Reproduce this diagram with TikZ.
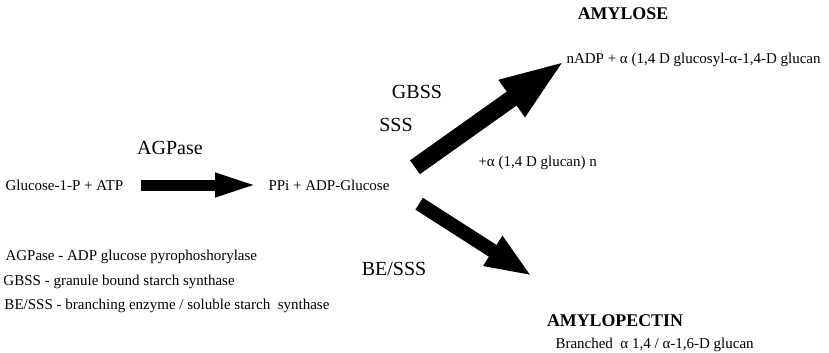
\documentclass[tikz,border=0pt]{standalone}
\usepackage{fontspec}
\setmainfont{Liberation Serif}
\usetikzlibrary{arrows.meta}

\tikzset{every picture/.style={line width=0.75pt}}
\tikzset{
	small text/.style={inner sep=0pt, font=\fontsize{11.25}{13}\selectfont},
	enzyme text/.style={inner sep=0pt, font=\fontsize{15}{17}\selectfont},
	product text/.style={inner sep=0pt, font=\fontsize{13.4}{15}\selectfont\bfseries},
	block arrow/.style={draw=black, line width=#1}
}

\begin{document}
\begin{tikzpicture}[x=0.75pt,y=0.75pt,yscale=-1,xscale=1]
	\useasboundingbox (0,0) rectangle (829,353);

	% Text Node
	\draw (5,185) node [anchor=west] [small text] (glc) {Glucose-1-P + ATP};
	% Text Node
	\draw (268,185) node [anchor=west] [small text] (ppi) {PPi + ADP-Glucose};
	% Text Node
	\draw (170,148) node [enzyme text] (agp) {AGPase};
	% Text Node
	\draw (417,92) node [enzyme text] (gbss) {GBSS};
	% Text Node
	\draw (396,125) node [enzyme text] (sss) {SSS};
	% Text Node
	\draw (394,269) node [enzyme text] (besss) {BE/SSS};
	% Text Node
	\draw (623,14) node [product text] (amylose) {AMYLOSE};
	% Text Node
	\draw (566,60) node [anchor=west] [small text] (nadp) {nADP + α (1,4 D glucosyl-α-1,4-D glucan};
	% Text Node
	\draw (478,163) node [anchor=west] [small text] (glucan) {+α (1,4 D glucan) n};
	% Text Node
	\draw (615,321) node [product text] (amylopectin) {AMYLOPECTIN};
	% Text Node
	\draw (555,345) node [anchor=west] [small text] (branched) {Branched~~α 1,4 / α-1,6-D glucan};

	% Text Node
	\draw (5,257) node [anchor=west] [small text] (key1) {AGPase - ADP glucose pyrophoshorylase};
	% Text Node
	\draw (3,282) node [anchor=west] [small text] (key2) {GBSS - granule bound starch synthase};
	% Text Node
	\draw (4,306) node [anchor=west] [small text] (key3) {BE/SSS - branching enzyme / soluble starch~~synthase};

	\coordinate (down tip) at (532,276);

	%Right Arrow
	\draw [block arrow=8.25pt, -{Triangle[length=33.75pt,width=15.75pt]}, shorten <=12.75pt, shorten >=6pt] (glc) -- (ppi);
	%Right Arrow
	\draw [block arrow=12.75pt, -{Triangle[length=50pt,width=30pt]}, shorten <=23pt] (ppi.east) -- (nadp.west);
	%Right Arrow
	\draw [block arrow=10.5pt, -{Triangle[length=35pt,width=24pt]}, shorten <=26pt] (ppi.east) -- (down tip);

\end{tikzpicture}
\end{document}
